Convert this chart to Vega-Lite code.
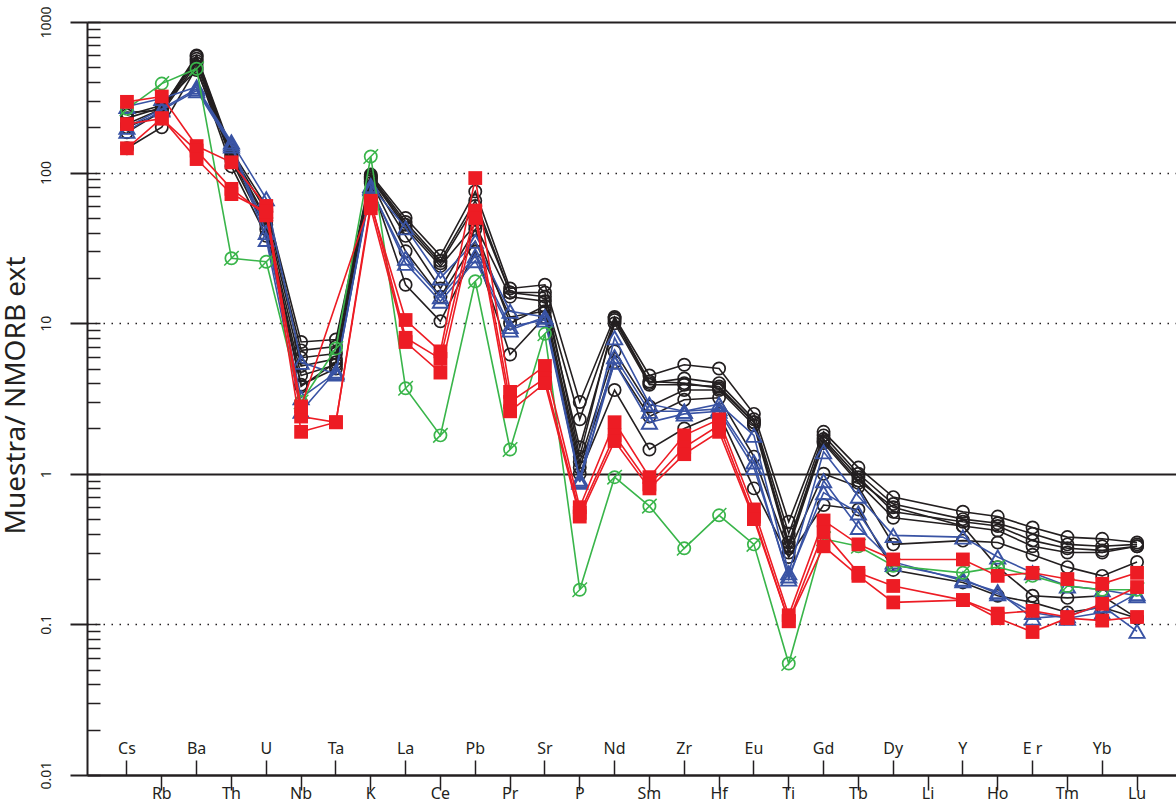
{
"$schema": "https://vega.github.io/schema/vega-lite/v6.json",
"autosize": {"type": "none"},
"padding": {"left": 87, "top": 22, "right": 0, "bottom": 25},
"width": 1090,
"height": 753,
"config": {"view": {"stroke": null}, "font": "Noto Sans"},
"data": {"values": [
{"s":"k1","e":"Cs","v":210},{"s":"k1","e":"Rb","v":265},{"s":"k1","e":"Ba","v":600},{"s":"k1","e":"Th","v":140},{"s":"k1","e":"U","v":60},{"s":"k1","e":"Nb","v":7.5},{"s":"k1","e":"Ta","v":7.8},{"s":"k1","e":"K","v":97},{"s":"k1","e":"La","v":50},{"s":"k1","e":"Ce","v":28},{"s":"k1","e":"Pb","v":75},{"s":"k1","e":"Pr","v":17},{"s":"k1","e":"Sr","v":18},{"s":"k1","e":"P","v":3.0},{"s":"k1","e":"Nd","v":11},{"s":"k1","e":"Sm","v":4.5},{"s":"k1","e":"Zr","v":5.3},{"s":"k1","e":"Hf","v":5.0},{"s":"k1","e":"Eu","v":2.5},{"s":"k1","e":"Ti","v":0.48},{"s":"k1","e":"Gd","v":1.9},{"s":"k1","e":"Tb","v":1.1},{"s":"k1","e":"Dy","v":0.7},{"s":"k1","e":"Y","v":0.56},{"s":"k1","e":"Ho","v":0.52},{"s":"k1","e":"Er","v":0.44},{"s":"k1","e":"Tm","v":0.38},{"s":"k1","e":"Yb","v":0.37},{"s":"k1","e":"Lu","v":0.35},
{"s":"k2","e":"Cs","v":185},{"s":"k2","e":"Rb","v":255},{"s":"k2","e":"Ba","v":590},{"s":"k2","e":"Th","v":135},{"s":"k2","e":"U","v":55},{"s":"k2","e":"Nb","v":6.6},{"s":"k2","e":"Ta","v":7.0},{"s":"k2","e":"K","v":95},{"s":"k2","e":"La","v":47},{"s":"k2","e":"Ce","v":26},{"s":"k2","e":"Pb","v":65},{"s":"k2","e":"Pr","v":16},{"s":"k2","e":"Sr","v":15},{"s":"k2","e":"P","v":2.3},{"s":"k2","e":"Nd","v":10.5},{"s":"k2","e":"Sm","v":4.0},{"s":"k2","e":"Zr","v":4.3},{"s":"k2","e":"Hf","v":4.0},{"s":"k2","e":"Eu","v":2.3},{"s":"k2","e":"Ti","v":0.4},{"s":"k2","e":"Gd","v":1.8},{"s":"k2","e":"Tb","v":1.0},{"s":"k2","e":"Dy","v":0.63},{"s":"k2","e":"Y","v":0.5},{"s":"k2","e":"Ho","v":0.47},{"s":"k2","e":"Er","v":0.4},{"s":"k2","e":"Tm","v":0.34},{"s":"k2","e":"Yb","v":0.33},{"s":"k2","e":"Lu","v":0.34},
{"s":"k3","e":"Cs","v":230},{"s":"k3","e":"Rb","v":270},{"s":"k3","e":"Ba","v":570},{"s":"k3","e":"Th","v":130},{"s":"k3","e":"U","v":50},{"s":"k3","e":"Nb","v":5.9},{"s":"k3","e":"Ta","v":6.3},{"s":"k3","e":"K","v":92},{"s":"k3","e":"La","v":43},{"s":"k3","e":"Ce","v":24},{"s":"k3","e":"Pb","v":45},{"s":"k3","e":"Pr","v":15},{"s":"k3","e":"Sr","v":14},{"s":"k3","e":"P","v":1.5},{"s":"k3","e":"Nd","v":10},{"s":"k3","e":"Sm","v":3.9},{"s":"k3","e":"Zr","v":3.9},{"s":"k3","e":"Hf","v":3.8},{"s":"k3","e":"Eu","v":2.2},{"s":"k3","e":"Ti","v":0.35},{"s":"k3","e":"Gd","v":1.7},{"s":"k3","e":"Tb","v":0.95},{"s":"k3","e":"Dy","v":0.56},{"s":"k3","e":"Y","v":0.48},{"s":"k3","e":"Ho","v":0.45},{"s":"k3","e":"Er","v":0.36},{"s":"k3","e":"Tm","v":0.32},{"s":"k3","e":"Yb","v":0.31},{"s":"k3","e":"Lu","v":0.33},
{"s":"k4","e":"Cs","v":250},{"s":"k4","e":"Rb","v":260},{"s":"k4","e":"Ba","v":550},{"s":"k4","e":"Th","v":125},{"s":"k4","e":"U","v":45},{"s":"k4","e":"Nb","v":5.2},{"s":"k4","e":"Ta","v":5.8},{"s":"k4","e":"K","v":90},{"s":"k4","e":"La","v":38},{"s":"k4","e":"Ce","v":17},{"s":"k4","e":"Pb","v":42},{"s":"k4","e":"Pr","v":10},{"s":"k4","e":"Sr","v":13},{"s":"k4","e":"P","v":1.2},{"s":"k4","e":"Nd","v":6.5},{"s":"k4","e":"Sm","v":2.8},{"s":"k4","e":"Zr","v":3.6},{"s":"k4","e":"Hf","v":3.6},{"s":"k4","e":"Eu","v":2.1},{"s":"k4","e":"Ti","v":0.32},{"s":"k4","e":"Gd","v":1.6},{"s":"k4","e":"Tb","v":0.87},{"s":"k4","e":"Dy","v":0.51},{"s":"k4","e":"Y","v":0.45},{"s":"k4","e":"Ho","v":0.42},{"s":"k4","e":"Er","v":0.33},{"s":"k4","e":"Tm","v":0.3},{"s":"k4","e":"Yb","v":0.3},{"s":"k4","e":"Lu","v":0.33},
{"s":"k5","e":"Cs","v":200},{"s":"k5","e":"Rb","v":250},{"s":"k5","e":"Ba","v":530},{"s":"k5","e":"Th","v":120},{"s":"k5","e":"U","v":42},{"s":"k5","e":"Nb","v":4.5},{"s":"k5","e":"Ta","v":5.3},{"s":"k5","e":"K","v":88},{"s":"k5","e":"La","v":30},{"s":"k5","e":"Ce","v":15},{"s":"k5","e":"Pb","v":35},{"s":"k5","e":"Pr","v":11},{"s":"k5","e":"Sr","v":12},{"s":"k5","e":"P","v":1.1},{"s":"k5","e":"Nd","v":5.5},{"s":"k5","e":"Sm","v":2.4},{"s":"k5","e":"Zr","v":3.1},{"s":"k5","e":"Hf","v":3.2},{"s":"k5","e":"Eu","v":1.3},{"s":"k5","e":"Ti","v":0.3},{"s":"k5","e":"Gd","v":1.0},{"s":"k5","e":"Tb","v":0.82},{"s":"k5","e":"Dy","v":0.34},{"s":"k5","e":"Y","v":0.36},{"s":"k5","e":"Ho","v":0.35},{"s":"k5","e":"Er","v":0.29},{"s":"k5","e":"Tm","v":0.24},{"s":"k5","e":"Yb","v":0.21},{"s":"k5","e":"Lu","v":0.26},
{"s":"k6","e":"Cs","v":145},{"s":"k6","e":"Rb","v":200},{"s":"k6","e":"Ba","v":500},{"s":"k6","e":"Th","v":110},{"s":"k6","e":"U","v":38},{"s":"k6","e":"Nb","v":3.9},{"s":"k6","e":"Ta","v":5.0},{"s":"k6","e":"K","v":85},{"s":"k6","e":"La","v":18},{"s":"k6","e":"Ce","v":10.3},{"s":"k6","e":"Pb","v":30},{"s":"k6","e":"Pr","v":6.2},{"s":"k6","e":"Sr","v":11},{"s":"k6","e":"P","v":1.0},{"s":"k6","e":"Nd","v":3.6},{"s":"k6","e":"Sm","v":1.45},{"s":"k6","e":"Zr","v":2.0},{"s":"k6","e":"Hf","v":2.5},{"s":"k6","e":"Eu","v":0.8},{"s":"k6","e":"Ti","v":0.28},{"s":"k6","e":"Gd","v":0.62},{"s":"k6","e":"Tb","v":0.58},{"s":"k6","e":"Dy","v":0.23},{"s":"k6","e":"Y","v":0.19},{"s":"k6","e":"Ho","v":0.155},{"s":"k6","e":"Er","v":0.14},{"s":"k6","e":"Tm","v":0.12},{"s":"k6","e":"Yb","v":0.13},{"s":"k6","e":"Lu","v":0.11},
{"s":"k7","e":"Cs","v":240},{"s":"k7","e":"Rb","v":280},{"s":"k7","e":"Ba","v":480},{"s":"k7","e":"Th","v":130},{"s":"k7","e":"U","v":48},{"s":"k7","e":"Nb","v":3.8},{"s":"k7","e":"Ta","v":5.5},{"s":"k7","e":"K","v":93},{"s":"k7","e":"La","v":45},{"s":"k7","e":"Ce","v":25},{"s":"k7","e":"Pb","v":60},{"s":"k7","e":"Pr","v":16},{"s":"k7","e":"Sr","v":16},{"s":"k7","e":"P","v":1.3},{"s":"k7","e":"Nd","v":10.8},{"s":"k7","e":"Sm","v":4.1},{"s":"k7","e":"Zr","v":4.0},{"s":"k7","e":"Hf","v":3.7},{"s":"k7","e":"Eu","v":2.2},{"s":"k7","e":"Ti","v":0.33},{"s":"k7","e":"Gd","v":1.65},{"s":"k7","e":"Tb","v":0.9},{"s":"k7","e":"Dy","v":0.6},{"s":"k7","e":"Y","v":0.45},{"s":"k7","e":"Ho","v":0.24},{"s":"k7","e":"Er","v":0.155},{"s":"k7","e":"Tm","v":0.15},{"s":"k7","e":"Yb","v":0.155},{"s":"k7","e":"Lu","v":0.11},
{"s":"b1","e":"Cs","v":275},{"s":"b1","e":"Rb","v":310},{"s":"b1","e":"Ba","v":370},{"s":"b1","e":"Th","v":160},{"s":"b1","e":"U","v":67},{"s":"b1","e":"Nb","v":5.5},{"s":"b1","e":"Ta","v":4.6},{"s":"b1","e":"K","v":82},{"s":"b1","e":"La","v":43},{"s":"b1","e":"Ce","v":20},{"s":"b1","e":"Pb","v":35},{"s":"b1","e":"Pr","v":12},{"s":"b1","e":"Sr","v":11},{"s":"b1","e":"P","v":0.92},{"s":"b1","e":"Nd","v":8},{"s":"b1","e":"Sm","v":2.9},{"s":"b1","e":"Zr","v":2.6},{"s":"b1","e":"Hf","v":2.9},{"s":"b1","e":"Eu","v":1.8},{"s":"b1","e":"Ti","v":0.22},{"s":"b1","e":"Gd","v":1.4},{"s":"b1","e":"Tb","v":0.71},{"s":"b1","e":"Dy","v":0.39},{"s":"b1","e":"Y","v":0.38},{"s":"b1","e":"Ho","v":0.28},{"s":"b1","e":"Er","v":0.22},{"s":"b1","e":"Tm","v":0.18},{"s":"b1","e":"Yb","v":0.17},{"s":"b1","e":"Lu","v":0.155},
{"s":"b2","e":"Cs","v":200},{"s":"b2","e":"Rb","v":265},{"s":"b2","e":"Ba","v":360},{"s":"b2","e":"Th","v":155},{"s":"b2","e":"U","v":40},{"s":"b2","e":"Nb","v":3.2},{"s":"b2","e":"Ta","v":4.7},{"s":"b2","e":"K","v":78},{"s":"b2","e":"La","v":27},{"s":"b2","e":"Ce","v":15},{"s":"b2","e":"Pb","v":28},{"s":"b2","e":"Pr","v":9.5},{"s":"b2","e":"Sr","v":10.5},{"s":"b2","e":"P","v":0.88},{"s":"b2","e":"Nd","v":6},{"s":"b2","e":"Sm","v":2.6},{"s":"b2","e":"Zr","v":2.6},{"s":"b2","e":"Hf","v":2.7},{"s":"b2","e":"Eu","v":1.2},{"s":"b2","e":"Ti","v":0.2},{"s":"b2","e":"Gd","v":0.9},{"s":"b2","e":"Tb","v":0.44},{"s":"b2","e":"Dy","v":0.26},{"s":"b2","e":"Y","v":0.195},{"s":"b2","e":"Ho","v":0.165},{"s":"b2","e":"Er","v":0.11},{"s":"b2","e":"Tm","v":0.114},{"s":"b2","e":"Yb","v":0.133},{"s":"b2","e":"Lu","v":0.09},
{"s":"b3","e":"Cs","v":188},{"s":"b3","e":"Rb","v":260},{"s":"b3","e":"Ba","v":350},{"s":"b3","e":"Th","v":150},{"s":"b3","e":"U","v":36},{"s":"b3","e":"Nb","v":2.6},{"s":"b3","e":"Ta","v":4.8},{"s":"b3","e":"K","v":80},{"s":"b3","e":"La","v":25},{"s":"b3","e":"Ce","v":14},{"s":"b3","e":"Pb","v":26},{"s":"b3","e":"Pr","v":9},{"s":"b3","e":"Sr","v":11},{"s":"b3","e":"P","v":0.9},{"s":"b3","e":"Nd","v":5.5},{"s":"b3","e":"Sm","v":2.2},{"s":"b3","e":"Zr","v":2.5},{"s":"b3","e":"Hf","v":2.6},{"s":"b3","e":"Eu","v":1.1},{"s":"b3","e":"Ti","v":0.21},{"s":"b3","e":"Gd","v":0.75},{"s":"b3","e":"Tb","v":0.55},{"s":"b3","e":"Dy","v":0.25},{"s":"b3","e":"Y","v":0.2},{"s":"b3","e":"Ho","v":0.16},{"s":"b3","e":"Er","v":0.12},{"s":"b3","e":"Tm","v":0.11},{"s":"b3","e":"Yb","v":0.12},{"s":"b3","e":"Lu","v":0.16},
{"s":"g1","e":"Cs","v":265},{"s":"g1","e":"Rb","v":390},{"s":"g1","e":"Ba","v":490},{"s":"g1","e":"Th","v":27},{"s":"g1","e":"U","v":25.6},{"s":"g1","e":"Nb","v":3.0},{"s":"g1","e":"Ta","v":6.8},{"s":"g1","e":"K","v":128},{"s":"g1","e":"La","v":3.7},{"s":"g1","e":"Ce","v":1.8},{"s":"g1","e":"Pb","v":19},{"s":"g1","e":"Pr","v":1.45},{"s":"g1","e":"Sr","v":8.5},{"s":"g1","e":"P","v":0.17},{"s":"g1","e":"Nd","v":0.95},{"s":"g1","e":"Sm","v":0.61},{"s":"g1","e":"Zr","v":0.32},{"s":"g1","e":"Hf","v":0.53},{"s":"g1","e":"Eu","v":0.34},{"s":"g1","e":"Ti","v":0.055},{"s":"g1","e":"Gd","v":0.37},{"s":"g1","e":"Tb","v":0.33},{"s":"g1","e":"Dy","v":0.245},{"s":"g1","e":"Y","v":0.22},{"s":"g1","e":"Ho","v":0.24},{"s":"g1","e":"Er","v":0.21},{"s":"g1","e":"Tm","v":0.18},{"s":"g1","e":"Yb","v":0.17},{"s":"g1","e":"Lu","v":0.17},
{"s":"r1","e":"Cs","v":295},{"s":"r1","e":"Rb","v":320},{"s":"r1","e":"Ba","v":150},{"s":"r1","e":"Th","v":117},{"s":"r1","e":"U","v":60},{"s":"r1","e":"Nb","v":2.4},{"s":"r1","e":"Ta","v":2.2},{"s":"r1","e":"K","v":62},{"s":"r1","e":"La","v":10.5},{"s":"r1","e":"Ce","v":6.5},{"s":"r1","e":"Pb","v":92},{"s":"r1","e":"Pr","v":3.5},{"s":"r1","e":"Sr","v":5.2},{"s":"r1","e":"P","v":0.6},{"s":"r1","e":"Nd","v":2.2},{"s":"r1","e":"Sm","v":0.95},{"s":"r1","e":"Zr","v":1.8},{"s":"r1","e":"Hf","v":2.3},{"s":"r1","e":"Eu","v":0.58},{"s":"r1","e":"Ti","v":0.115},{"s":"r1","e":"Gd","v":0.49},{"s":"r1","e":"Tb","v":0.34},{"s":"r1","e":"Dy","v":0.27},{"s":"r1","e":"Y","v":0.27},{"s":"r1","e":"Ho","v":0.21},{"s":"r1","e":"Er","v":0.22},{"s":"r1","e":"Tm","v":0.2},{"s":"r1","e":"Yb","v":0.186},{"s":"r1","e":"Lu","v":0.22},
{"s":"r2","e":"Cs","v":210},{"s":"r2","e":"Rb","v":228},{"s":"r2","e":"Ba","v":140},{"s":"r2","e":"Th","v":78},{"s":"r2","e":"U","v":52},{"s":"r2","e":"Nb","v":2.8},{"s":"r2","e":"K","v":65},{"s":"r2","e":"La","v":8},{"s":"r2","e":"Ce","v":5.8},{"s":"r2","e":"Pb","v":56},{"s":"r2","e":"Pr","v":3.0},{"s":"r2","e":"Sr","v":4.3},{"s":"r2","e":"P","v":0.55},{"s":"r2","e":"Nd","v":1.8},{"s":"r2","e":"Sm","v":0.85},{"s":"r2","e":"Zr","v":1.5},{"s":"r2","e":"Hf","v":2.1},{"s":"r2","e":"Eu","v":0.52},{"s":"r2","e":"Ti","v":0.105},{"s":"r2","e":"Gd","v":0.41},{"s":"r2","e":"Tb","v":0.22},{"s":"r2","e":"Dy","v":0.18},{"s":"r2","e":"Y","v":0.145},{"s":"r2","e":"Ho","v":0.118},{"s":"r2","e":"Er","v":0.123},{"s":"r2","e":"Tm","v":0.112},{"s":"r2","e":"Yb","v":0.137},{"s":"r2","e":"Lu","v":0.177},
{"s":"r3","e":"Cs","v":145},{"s":"r3","e":"Rb","v":230},{"s":"r3","e":"Ba","v":123},{"s":"r3","e":"Th","v":72},{"s":"r3","e":"U","v":55},{"s":"r3","e":"Nb","v":1.9},{"s":"r3","e":"Ta","v":2.2},{"s":"r3","e":"K","v":58},{"s":"r3","e":"La","v":7.5},{"s":"r3","e":"Ce","v":4.7},{"s":"r3","e":"Pb","v":50},{"s":"r3","e":"Pr","v":2.6},{"s":"r3","e":"Sr","v":4.0},{"s":"r3","e":"P","v":0.52},{"s":"r3","e":"Nd","v":1.65},{"s":"r3","e":"Sm","v":0.8},{"s":"r3","e":"Zr","v":1.35},{"s":"r3","e":"Hf","v":1.9},{"s":"r3","e":"Eu","v":0.5},{"s":"r3","e":"Ti","v":0.105},{"s":"r3","e":"Gd","v":0.33},{"s":"r3","e":"Tb","v":0.21},{"s":"r3","e":"Dy","v":0.14},{"s":"r3","e":"Y","v":0.145},{"s":"r3","e":"Ho","v":0.11},{"s":"r3","e":"Er","v":0.089},{"s":"r3","e":"Tm","v":0.11},{"s":"r3","e":"Yb","v":0.106},{"s":"r3","e":"Lu","v":0.112}
]},
"resolve": {"axis": {"x": "independent", "y": "independent"}},
"layer": [
{"transform": [{"filter": "indexof(datum.s,'k')==0"}],
 "mark": {"type": "line", "color": "#231f20", "strokeWidth": 1.6},
 "encoding": {
  "x": {"field": "e", "type": "ordinal",
        "scale": {"type": "band", "paddingInner": 0, "paddingOuter": 0.647, "domain": ["Cs","Rb","Ba","Th","U","Nb","Ta","K","La","Ce","Pb","Pr","Sr","P","Nd","Sm","Zr","Hf","Eu","Ti","Gd","Tb","Dy","Li","Y","Ho","Er","Tm","Yb","Lu"]},
        "axis": {"orient": "bottom", "values": ["Rb","Th","Nb","K","Ce","Pr","P","Sm","Hf","Ti","Tb","Li","Ho","Tm","Lu"],
                 "title": null, "grid": false, "tickSize": 15, "tickWidth": 1.5, "tickColor": "#231f20", "tickBand": "center",
                 "domain": true, "domainWidth": 2, "domainColor": "#231f20",
                 "labelAngle": 0, "labelPadding": -5, "labelFontSize": 16, "labelColor": "#231f20", "labelFont": "Noto Sans", "labelOverlap": false, "labelBound": false}},
  "y": {"field": "v", "type": "quantitative",
        "scale": {"type": "log", "domain": [0.01, 1000], "nice": false},
        "axis": {"orient": "left", "values": [0.01,0.02,0.03,0.04,0.05,0.06,0.07,0.08,0.09,0.1,0.2,0.3,0.4,0.5,0.6,0.7,0.8,0.9,1,2,3,4,5,6,7,8,9,10,20,30,40,50,60,70,80,90,100,200,300,400,500,600,700,800,900,1000],
                 "title": null, "labels": false, "grid": false, "tickSize": -13, "tickWidth": 1.5, "tickColor": "#231f20",
                 "domain": true, "domainWidth": 2, "domainColor": "#231f20"}},
  "detail": {"field": "s"},
  "order": {"value": null}}},
{"transform": [{"filter": "indexof(datum.s,'k')==0"}],
 "mark": {"type": "point", "shape": "circle", "filled": false, "size": 150, "strokeWidth": 1.7, "color": "#231f20", "opacity": 1},
 "encoding": {
  "x": {"field": "e", "type": "ordinal",
        "axis": {"orient": "bottom", "values": ["Cs","Ba","U","Ta","La","Pb","Sr","Nd","Zr","Eu","Gd","Dy","Y","Er","Yb"],
                 "title": null, "grid": false, "tickSize": -15, "tickWidth": 1.5, "tickColor": "#231f20", "domain": false, "tickBand": "center",
                 "labelExpr": "datum.label == 'Er' ? 'E r' : datum.label",
                 "labelAngle": 0, "labelBaseline": "bottom", "labelPadding": -4, "labelFontSize": 16, "labelColor": "#231f20", "labelFont": "Noto Sans", "labelOverlap": false, "labelBound": false}},
  "y": {"field": "v", "type": "quantitative",
        "axis": {"orient": "left", "values": [0.01,0.1,1,10,100,1000], "format": "~g",
                 "title": "Muestra/ NMORB ext", "titleFontSize": 28, "titleFontWeight": "normal", "titleColor": "#231f20", "titleFont": "Noto Sans",
                 "titleX": -57, "titleY": 373, "titleAngle": -90, "titleAlign": "center", "titleBaseline": "bottom",
                 "grid": true, "gridColor": "#231f20",
                 "gridDash": {"condition": {"test": "datum.value == 1 || datum.value >= 1000 || datum.value <= 0.01", "value": []}, "value": [1.5, 6.5]},
                 "gridWidth": {"condition": {"test": "datum.value == 1 || datum.value >= 1000 || datum.value <= 0.01", "value": 1.8}, "value": 1.5},
                 "tickSize": 17, "tickWidth": 2, "tickColor": "#231f20", "domain": false,
                 "labelAngle": -90, "labelAlign": "center", "labelBaseline": "bottom", "labelPadding": 17, "labelFontSize": 14, "labelColor": "#231f20", "labelFont": "Noto Sans", "labelOverlap": false, "labelBound": false}}}},
{"transform": [{"filter": "indexof(datum.s,'b')==0"}],
 "mark": {"type": "line", "color": "#3953a4", "strokeWidth": 1.6},
 "encoding": {"x": {"field": "e", "type": "ordinal", "axis": null}, "y": {"field": "v", "type": "quantitative", "axis": null}, "detail": {"field": "s"}, "order": {"value": null}}},
{"transform": [{"filter": "indexof(datum.s,'b')==0"}],
 "mark": {"type": "point", "shape": "triangle-up", "filled": false, "size": 230, "strokeWidth": 1.9, "color": "#3953a4", "opacity": 1},
 "encoding": {"x": {"field": "e", "type": "ordinal", "axis": null}, "y": {"field": "v", "type": "quantitative", "axis": null}}},
{"transform": [{"filter": "indexof(datum.s,'g')==0"}],
 "mark": {"type": "line", "color": "#39b54a", "strokeWidth": 1.6},
 "encoding": {"x": {"field": "e", "type": "ordinal", "axis": null}, "y": {"field": "v", "type": "quantitative", "axis": null}, "detail": {"field": "s"}, "order": {"value": null}}},
{"transform": [{"filter": "indexof(datum.s,'g')==0"}],
 "mark": {"type": "point", "shape": "circle", "filled": false, "size": 150, "strokeWidth": 1.7, "color": "#39b54a", "opacity": 1},
 "encoding": {"x": {"field": "e", "type": "ordinal", "axis": null}, "y": {"field": "v", "type": "quantitative", "axis": null}}},
{"transform": [{"filter": "indexof(datum.s,'g')==0"}],
 "mark": {"type": "point", "shape": "M-1,1L1,-1", "filled": false, "size": 210, "strokeWidth": 1.5, "color": "#39b54a", "opacity": 1},
 "encoding": {"x": {"field": "e", "type": "ordinal", "axis": null}, "y": {"field": "v", "type": "quantitative", "axis": null}}},
{"transform": [{"filter": "indexof(datum.s,'r')==0"}],
 "mark": {"type": "line", "color": "#ed1c24", "strokeWidth": 1.6},
 "encoding": {"x": {"field": "e", "type": "ordinal", "axis": null}, "y": {"field": "v", "type": "quantitative", "axis": null}, "detail": {"field": "s"}, "order": {"value": null}}},
{"transform": [{"filter": "indexof(datum.s,'r')==0"}],
 "mark": {"type": "point", "shape": "square", "filled": true, "size": 190, "color": "#ed1c24", "opacity": 1},
 "encoding": {"x": {"field": "e", "type": "ordinal", "axis": null}, "y": {"field": "v", "type": "quantitative", "axis": null}}}
]
}
